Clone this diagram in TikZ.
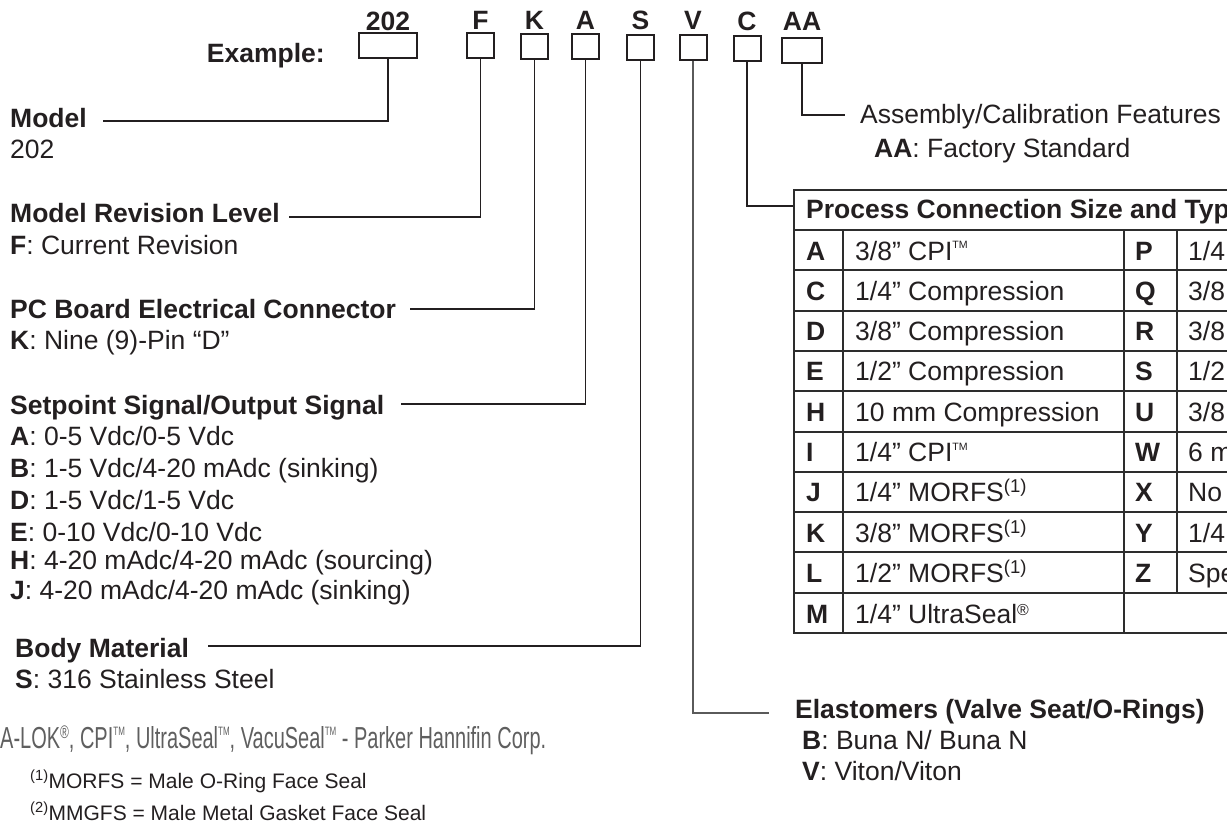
\documentclass[tikz,border=0pt]{standalone}
\usepackage{fontspec}
\setmainfont{Liberation Sans}
\usepackage{graphicx}
\definecolor{ink}{RGB}{35,31,32}
\definecolor{rule}{RGB}{45,45,45}
\definecolor{note}{RGB}{95,95,95}
\definecolor{thin}{RGB}{90,90,90}
\newcommand{\tmk}{\raisebox{0.42em}{\scalebox{0.4}{TM}}}
\newcommand{\regk}{\raisebox{0.3em}{\scalebox{0.6}{®}}}
\tikzset{
  hdr/.style={font=\fontsize{26.5}{30}\selectfont\bfseries, anchor=base west, inner sep=0pt, text=ink},
  opt/.style={font=\fontsize{26.5}{30}\selectfont, anchor=base west, inner sep=0pt, text=ink},
  foot/.style={font=\fontsize{21}{24}\selectfont, anchor=base west, inner sep=0pt, text=ink},
  codebox/.style={draw=ink, line width=2pt, minimum height=25pt, minimum width=27pt, inner sep=0pt},
  codelbl/.style={font=\fontsize{26.5}{30}\selectfont\bfseries, anchor=base, inner sep=0pt, text=ink},
  lead/.style={draw=ink, line width=1.6pt},
  grid/.style={draw=rule, line width=2pt}
}
\begin{document}
\begin{tikzpicture}[x=1pt, y=-1pt, line join=miter]
  \useasboundingbox (0,0) rectangle (1227,825);
  \clip (0,0) rectangle (1227,825);
  % code boxes
  \node[codebox, minimum width=58pt] (b202) at (388,45.5) {};
  \node[codebox] (bF) at (480.5,45.5) {};
  \node[codebox] (bK) at (534.5,46.5) {};
  \node[codebox] (bA) at (585.5,46.5) {};
  \node[codebox] (bS) at (640.5,47) {};
  \node[codebox] (bV) at (693,47.5) {};
  \node[codebox] (bC) at (747,48.5) {};
  \node[codebox, minimum width=40pt] (bAA) at (802,50.5) {};
  \node[codelbl] (l202) at (388,30) {202};
  \node[codelbl] (lF) at (480.5,29) {F};
  \node[codelbl] (lK) at (534.5,29) {K};
  \node[codelbl] (lA) at (585.5,29) {A};
  \node[codelbl] (lS) at (640.5,29) {S};
  \node[codelbl] (lV) at (693,29) {V};
  \node[codelbl] (lC) at (747,30) {C};
  \node[codelbl] (lAA) at (802,30) {AA};
  \node[hdr, anchor=base east] (tEx) at (325,62) {Example:};
  % left column
  \node[hdr] (tModel) at (10,127) {Model};
  \node[opt] (oModel) at (10,158) {202};
  \node[hdr] (tRev) at (10,222) {Model Revision Level};
  \node[opt] (oRev) at (10,254) {\textbf{F}: Current Revision};
  \node[hdr] (tPcb) at (10,318) {PC Board Electrical Connector};
  \node[opt] (oPcb) at (10,349) {\textbf{K}: Nine (9)-Pin “D”};
  \node[hdr] (tSig) at (10,414) {Setpoint Signal/Output Signal};
  \foreach \y/\c/\t in {445/A/{0-5 Vdc/0-5 Vdc}, 477/B/{1-5 Vdc/4-20 mAdc (sinking)},
      509/D/{1-5 Vdc/1-5 Vdc}, 541/E/{0-10 Vdc/0-10 Vdc},
      569/H/{4-20 mAdc/4-20 mAdc (sourcing)}, 599/J/{4-20 mAdc/4-20 mAdc (sinking)}}
    \node[opt] (oSig\c) at (10,\y) {\textbf{\c}: \t};
  \node[hdr] (tBody) at (15,657) {Body Material};
  \node[opt] (oBody) at (15,688) {\textbf{S}: 316 Stainless Steel};
  \node[anchor=base west, inner sep=0pt, text=note] (nTrade) at (0,748)
    {\resizebox{546pt}{22pt}{\fontsize{30}{34}\selectfont A-LOK\regk, CPI\tmk, UltraSeal\tmk, VacuSeal\tmk\ - Parker Hannifin Corp.}};
  \node[foot] (nMorfs) at (30,788) {\textsuperscript{(1)}MORFS = Male O-Ring Face Seal};
  \node[foot] (nMmgfs) at (30,820) {\textsuperscript{(2)}MMGFS = Male Metal Gasket Face Seal};
  % right column
  \node[opt] (tAsm) at (860,123) {Assembly/Calibration Features};
  \node[opt] (oAsm) at (874,157) {\textbf{AA}: Factory Standard};
  \node[hdr] (tElast) at (795,718) {Elastomers (Valve Seat/O-Rings)};
  \node[opt] (oElastB) at (802,749) {\textbf{B}: Buna N/ Buna N};
  \node[opt] (oElastV) at (802,780) {\textbf{V}: Viton/Viton};
  % leader ends
  \coordinate (eModel) at (103,121);
  \coordinate (eRev) at (289,217);
  \coordinate (ePcb) at (410,309);
  \coordinate (eSig) at (401,404);
  \coordinate (eBody) at (208,646);
  \coordinate (eElast) at (769,713);
  \coordinate (eTab) at (794,206);
  \coordinate (eAsm) at (845,115);
  \draw[lead] (b202.south) |- (eModel);
  \draw[lead] (bF.south) |- (eRev);
  \draw[lead] (bK.south) |- (ePcb);
  \draw[lead] (bA.south) |- (eSig);
  \draw[lead] (bS.south) |- (eBody);
  \draw[lead, draw=thin, line width=1.3pt] (bV.south) |- (eElast);
  \draw[lead] (bC.south) |- (eTab);
  \draw[lead] (bAA.south) |- (eAsm);
  % process connection table
  \draw[grid] (1240,190) -- (794,190) -- (794,633) -- (1240,633);
  \foreach \y in {230,270,311,351,391,432,472,512,552,593}
    \draw[grid] (794,\y) -- (1240,\y);
  \draw[grid] (843,230) -- (843,633);
  \draw[grid] (1124,230) -- (1124,633);
  \draw[grid] (1177,230) -- (1177,593);
  \node[hdr] (tTab) at (806,218) {Process Connection Size and Typ};
  \foreach \c/\t/\rc/\rt [count=\i from 0] in {A/{3/8” CPI\tmk}/P/{1/4}, C/{1/4” Compression}/Q/{3/8},
      D/{3/8” Compression}/R/{3/8}, E/{1/2” Compression}/S/{1/2}, H/{10 mm Compression}/U/{3/8},
      I/{1/4” CPI\tmk}/W/{6 m}, J/{1/4” MORFS\textsuperscript{(1)}}/X/{No},
      K/{3/8” MORFS\textsuperscript{(1)}}/Y/{1/4}, L/{1/2” MORFS\textsuperscript{(1)}}/Z/{Spe}} {
    \pgfmathsetmacro{\yb}{260+40.3*\i}
    \node[hdr] (c\c) at (806,\yb) {\c};
    \node[opt] (d\c) at (855,\yb) {\t};
    \node[hdr] (c\rc r) at (1135,\yb) {\rc};
    \node[opt] (d\rc r) at (1188,\yb) {\rt};
  }
  \node[hdr] (cM) at (806,623) {M};
  \node[opt] (dM) at (855,623) {1/4” UltraSeal\regk};
\end{tikzpicture}
\end{document}
